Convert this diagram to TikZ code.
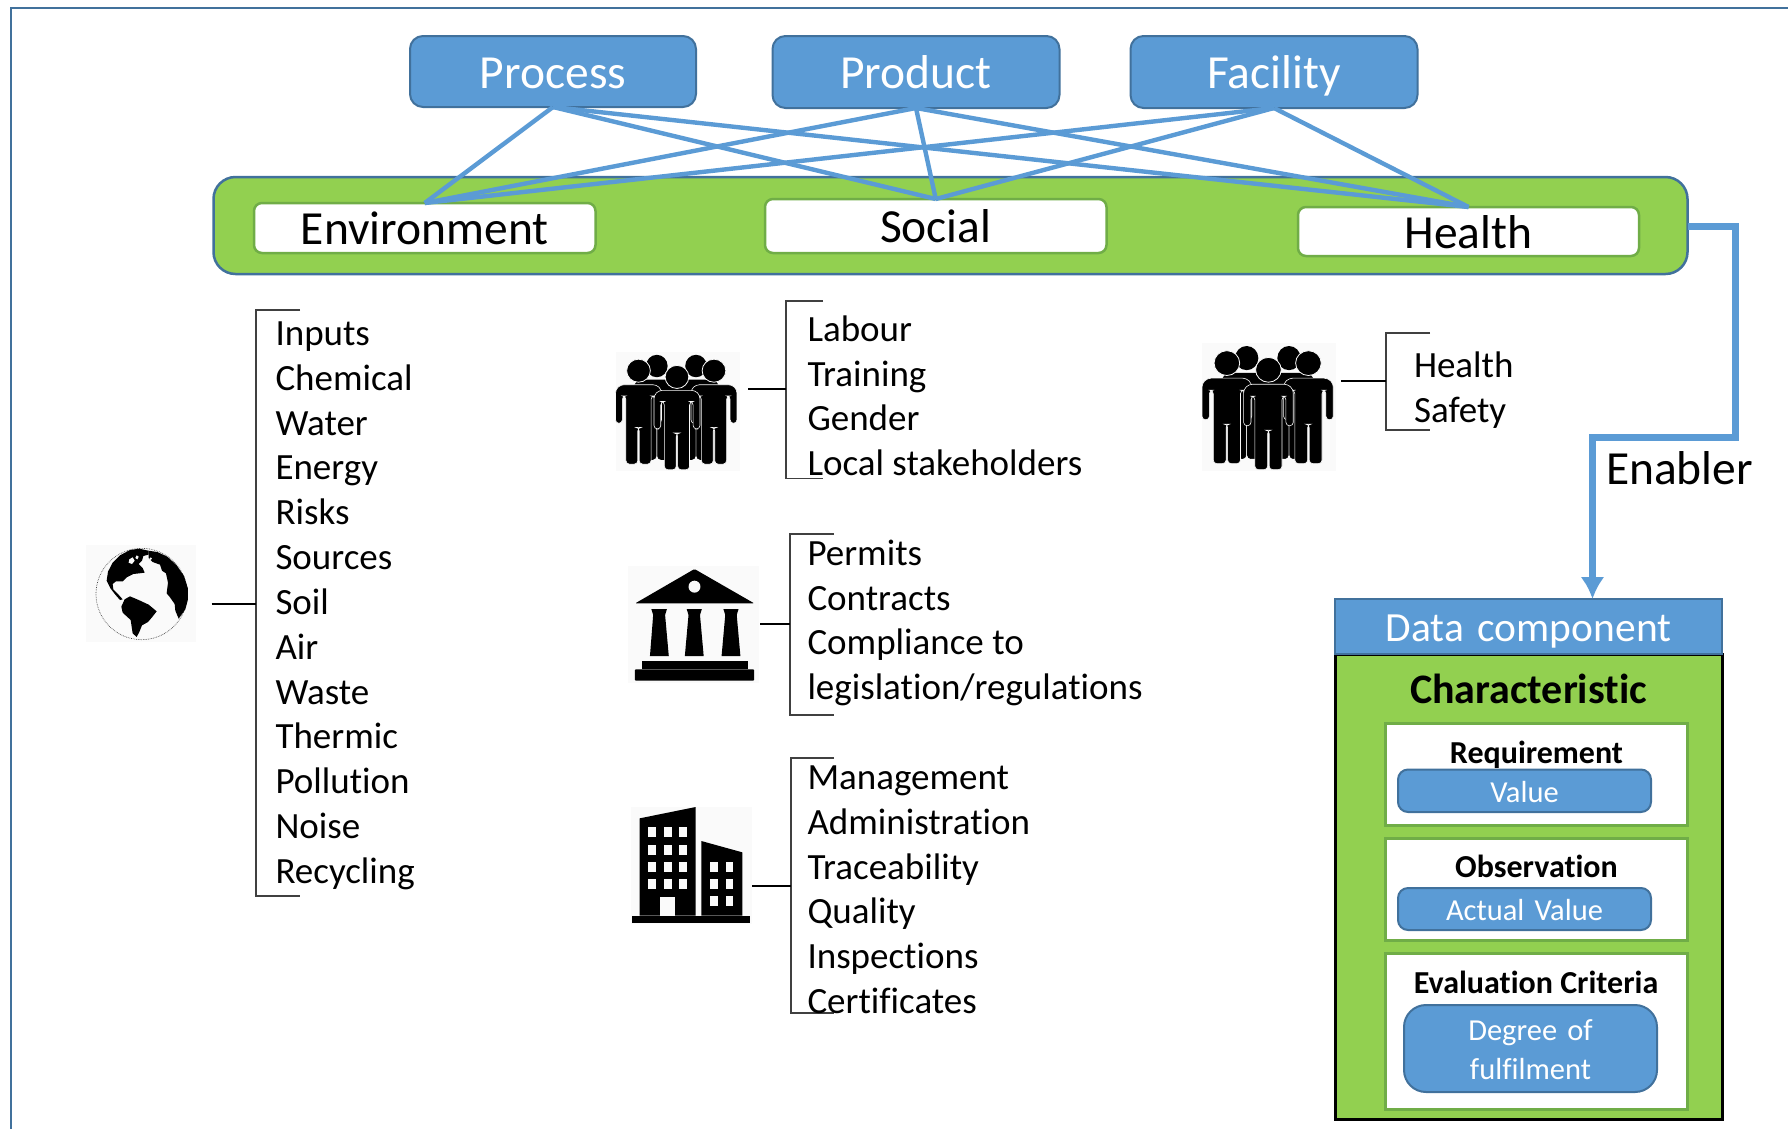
\documentclass[tikz,border=0pt]{standalone}
\usepackage{fontspec}
\setmainfont{Carlito}[Ligatures=CommonOff]
\usetikzlibrary{arrows.meta}
\definecolor{bluefill}{HTML}{5B9BD5}
\definecolor{blueedge}{HTML}{41719C}
\definecolor{greenfill}{HTML}{92D050}
\definecolor{greenedge}{HTML}{70AD47}
\definecolor{iconbg}{HTML}{FAFAFA}
\definecolor{bracketgray}{HTML}{404040}
\tikzset{
  fbig/.style={font=\fontsize{47.5}{50}\selectfont},
  topbox/.style={fill=bluefill,draw=blueedge,line width=2pt,rounded corners=13pt,text=white,fbig},
  whitebox/.style={fill=white,draw=greenedge,line width=2.5pt,rounded corners=8pt,text=black,fbig},
  barbox/.style={fill=greenfill,draw=blueedge,line width=2.5pt,rounded corners=22pt},
  link/.style={draw=bluefill,line width=4.4pt},
  listtext/.style={anchor=base west,inner sep=0pt,outer sep=0pt,font=\fontsize{37}{40}\selectfont},
  bracketline/.style={draw=bracketgray,line width=1.4pt},
  stemline/.style={draw=black,line width=1.5pt},
  panel/.style={fill=white,draw=greenedge,line width=3pt},
  valuebox/.style={fill=bluefill,draw=blueedge,line width=2pt,rounded corners=10pt,text=white,font=\fontsize{30.5}{39}\selectfont},
  headtext/.style={anchor=base,inner sep=0pt,outer sep=0pt,font=\fontsize{32}{36}\selectfont\bfseries},
  iconback/.style={fill=iconbg,draw=none,inner sep=0pt,outer sep=0pt},
}
% name, style, x1, y1, x2, y2, first baseline, text depth measured from first baseline, text
\newcommand{\tbox}[9]{%
  \pgfmathsetmacro{\bw}{#5-#3}\pgfmathsetmacro{\bh}{#7-#4}\pgfmathsetmacro{\bd}{#8}%
  \node[#2,inner sep=0pt,outer sep=0pt,align=center,text width=\bw pt,text height=\bh pt,text depth=\bd pt,anchor=north west] (#1) at (#3,#4) {#9};%
}
% background rectangle as a named node
\newcommand{\iconrect}[5]{%
  \pgfmathsetmacro{\bw}{#4-#2}\pgfmathsetmacro{\bh}{#5-#3}%
  \node[iconback,minimum width=\bw pt,minimum height=\bh pt,anchor=north west] (#1) at (#2,#3) {};%
}
\newcommand{\personshape}[3]{% cx, shoulder y, outline
  \filldraw[fill=black,draw=#3,line width=.6pt,rounded corners=3.5pt]
    (#1-64,#2+16) -- (#1-64,#2+124) -- (#1-45,#2+124) -- (#1-45,#2+36) -- (#1-35,#2+36)
    -- (#1-35,#2+255) -- (#1-2,#2+255) -- (#1-2,#2+137) -- (#1+2,#2+137) -- (#1+2,#2+255)
    -- (#1+35,#2+255) -- (#1+35,#2+36) -- (#1+45,#2+36) -- (#1+45,#2+124) -- (#1+64,#2+124)
    -- (#1+64,#2+16) -- (#1+50,#2) -- (#1-50,#2) -- cycle;
}
\newcommand{\peopleicon}[4]{% left, top, width, height
  \begin{scope}[shift={(#1,#2)},x=#3pt/345,y=-#4pt/382,shift={(-57,-430)}]
    \personshape{172}{520}{black}
    \personshape{281}{520}{black}
    \fill (172,475) ellipse [x radius=30,y radius=36];
    \fill (281,475) ellipse [x radius=30,y radius=36];
    \personshape{121}{535}{iconbg}
    \personshape{331}{535}{iconbg}
    \filldraw[fill=black,draw=iconbg,line width=.8pt] (121,490) ellipse [x radius=33,y radius=37];
    \filldraw[fill=black,draw=iconbg,line width=.8pt] (331,490) ellipse [x radius=33,y radius=37];
    \personshape{228}{553}{iconbg}
    \filldraw[fill=black,draw=iconbg,line width=.8pt] (228,510) ellipse [x radius=33,y radius=37];
  \end{scope}
}
\begin{document}
\begin{tikzpicture}[x=1pt,y=-1pt]
\useasboundingbox (0,0) rectangle (1788,1128);
\fill[white] (0,0) rectangle (1788,1128);
\draw[draw=blueedge,line width=2.5pt] (11,1130) -- (11,8) -- (1790,8);

% green bar
\node[barbox,minimum width=1474pt,minimum height=97pt,inner sep=0pt,outer sep=0pt,anchor=north west] (bar) at (213.5,177) {};

% top row and aspects
\tbox{process}{topbox}{410}{36}{696}{107}{88.5}{18.5}{Process}
\tbox{product}{topbox}{772.5}{36}{1059.5}{108}{88.5}{19.5}{Product}
\tbox{facility}{topbox}{1130.5}{36}{1417.5}{108}{88.5}{19.5}{Facility}
\tbox{env}{whitebox}{254}{203}{595.5}{253}{244}{9}{Environment}
\tbox{social}{whitebox}{765}{199}{1106.5}{253}{242}{11}{Social}
\tbox{health}{whitebox}{1298}{207}{1639}{256}{248}{8}{Health}

\foreach \t in {process,product,facility}
  \foreach \b in {env,social,health}
    \draw[link] (\t.south) -- (\b.north);

% enabler connector
\coordinate (ea) at (1735,226);
\coordinate (eb) at (1735,437);
\coordinate (ec) at (1592.5,437);
\node[anchor=base west,inner sep=0pt,outer sep=0pt,font=\fontsize{47.5}{50}\selectfont] (enabler) at (1606,484) {Enabler};

% data component
\node[fill=greenfill,draw=black,line width=3pt,minimum width=387pt,minimum height=465pt,inner sep=0pt,outer sep=0pt,anchor=north west] (databody) at (1335.5,654) {};
\tbox{datahdr}{fill=bluefill,draw=blueedge,line width=2.5pt,text=white,font=\fontsize{41.5}{46}\selectfont}{1335}{599}{1722}{654}{641.5}{12.5}{Data component}
\draw[draw=bluefill,line width=7pt,-{Latex[length=22pt,width=24pt]}] (bar.east |- ea) -- (ea) -- (eb) -- (ec) -- (ec |- datahdr.north);
\node[anchor=base,inner sep=0pt,outer sep=0pt,font=\fontsize{42}{46}\selectfont\bfseries] (charact) at (1528.5,703) {Characteristic};

\node[panel,minimum width=302.5pt,minimum height=102pt,inner sep=0pt,outer sep=0pt,anchor=north west] (reqpanel) at (1385,723) {};
\node[panel,minimum width=302.5pt,minimum height=102pt,inner sep=0pt,outer sep=0pt,anchor=north west] (obspanel) at (1385,838) {};
\node[panel,minimum width=302.5pt,minimum height=156pt,inner sep=0pt,outer sep=0pt,anchor=north west] (evalpanel) at (1385,953) {};
\node[headtext] (reqlabel) at (1536.5,763.5) {Requirement};
\node[headtext] (obslabel) at (1536.5,877.5) {Observation};
\node[headtext] (evallabel) at (1536,993) {Evaluation Criteria};
\tbox{valuea}{valuebox}{1398}{769.5}{1651}{812}{802}{10}{Value}
\tbox{valueb}{valuebox}{1398}{888}{1651}{930}{920}{10}{Actual Value}
\tbox{degree}{valuebox,rounded corners=22pt}{1404}{1005}{1657}{1092}{1040}{52}{Degree of\\fulfilment}

% icon backgrounds
\iconrect{globeicon}{86}{545}{196}{642}
\iconrect{peopleA}{615.5}{352}{739.5}{471}
\iconrect{temple}{628}{566}{759}{683}
\iconrect{building}{631.3}{806.7}{752}{924}
\iconrect{peopleB}{1202}{343}{1336}{471}

% globe
\begin{scope}[shift={(80,540)},x=.3333pt,y=-.3333pt]
  \draw[black!70,line width=.7pt,densely dotted] (185,162) circle [radius=137];
  \fill[black] (80,122) -- (84,95) -- (98,68) -- (120,46) -- (150,30) -- (178,26) -- (205,32) -- (205,44) -- (190,48) -- (186,62) -- (176,72) -- (188,84) -- (194,98) -- (178,100) -- (160,102) -- (140,112) -- (128,124) -- (108,124) -- (98,132) -- (100,148) -- (112,160) -- (128,178) -- (120,180) -- (106,164) -- (92,146) -- cycle;
  \fill[iconbg] (148,58) -- (158,52) -- (164,62) -- (156,72) -- (146,68) -- cycle;
  \fill[iconbg] (170,46) -- (176,50) -- (172,58) -- (166,54) -- cycle;
  \fill[black] (205,32) -- (232,36) -- (262,50) -- (290,76) -- (312,108) -- (324,146) -- (324,178) -- (316,208) -- (296,236) -- (286,212) -- (284,192) -- (270,172) -- (260,160) -- (264,128) -- (258,100) -- (246,92) -- (240,74) -- (218,66) -- (206,54) -- cycle;
  \fill[iconbg] (212,56) circle [radius=4];
  \fill[black] (124,200) -- (134,178) -- (150,169) -- (176,180) -- (206,194) -- (230,214) -- (216,232) -- (204,246) -- (186,256) -- (178,276) -- (170,291) -- (158,280) -- (152,240) -- (128,218) -- cycle;
\end{scope}

% people
\peopleicon{615.5}{352}{124}{119}
\peopleicon{1202}{343}{134}{128}

% temple (zoom coordinates)
\begin{scope}[shift={(60,320)},x=1pt/2.178,y=-1pt/3]
  \fill[rounded corners=1pt] (1382,747) -- (1512,850) -- (1253,850) -- cycle;
  \fill[iconbg] (1382,800) ellipse [x radius=13,y radius=18];
  \fill (1288,867) -- (1322,867) -- (1318,885) -- (1326,1008) -- (1285,1008) -- (1292,885) -- cycle;
  \fill (1365,867) -- (1398,867) -- (1394,885) -- (1402,1008) -- (1361,1008) -- (1369,885) -- cycle;
  \fill (1445,867) -- (1478,867) -- (1474,885) -- (1482,1008) -- (1441,1008) -- (1449,885) -- cycle;
  \fill (1267,1022) rectangle (1498,1048);
  \fill[rounded corners=1pt] (1252,1048) rectangle (1512,1082);
\end{scope}

% building (zoom coordinates)
\begin{scope}[shift={(600,770)},x=1pt/3,y=-1pt/3]
  \fill (119,145) -- (287,111) -- (287,437) -- (119,437) -- cycle;
  \fill (304,213) -- (427,247) -- (427,437) -- (304,437) -- cycle;
  \fill (96,437) rectangle (450,458);
  \foreach \wy in {172,224,275,327}
    \foreach \wx in {145,191,236}
      \fill[iconbg] (\wx,\wy) rectangle (\wx+24,\wy+30);
  \foreach \wy in {276,327,379}
    \foreach \wx in {331,377}
      \fill[iconbg] (\wx,\wy) rectangle (\wx+23,\wy+30);
  \fill[iconbg] (181,380) rectangle (224,437);
\end{scope}

% brackets and stems
\coordinate (bA1) at (300,310); \coordinate (bA2) at (256,310); \coordinate (bA3) at (256,896); \coordinate (bA4) at (300,896); \coordinate (sA1) at (211.5,604); \coordinate (sA2) at (256,604);
\draw[bracketline] (bA1) -- (bA2) -- (bA3) -- (bA4);
\draw[stemline] (sA1) -- (sA2);
\coordinate (bB1) at (823,301); \coordinate (bB2) at (786,301); \coordinate (bB3) at (786,478.5); \coordinate (bB4) at (823,478.5); \coordinate (sB1) at (748,389); \coordinate (sB2) at (786,389);
\draw[bracketline] (bB1) -- (bB2) -- (bB3) -- (bB4);
\draw[stemline] (sB1) -- (sB2);
\coordinate (bC1) at (834,534); \coordinate (bC2) at (790,534); \coordinate (bC3) at (790,715); \coordinate (bC4) at (834,715); \coordinate (sC1) at (760,624); \coordinate (sC2) at (790,624);
\draw[bracketline] (bC1) -- (bC2) -- (bC3) -- (bC4);
\draw[stemline] (sC1) -- (sC2);
\coordinate (bD1) at (834,758); \coordinate (bD2) at (791,758); \coordinate (bD3) at (791,1013); \coordinate (bD4) at (834,1013); \coordinate (sD1) at (752,886); \coordinate (sD2) at (791,886);
\draw[bracketline] (bD1) -- (bD2) -- (bD3) -- (bD4);
\draw[stemline] (sD1) -- (sD2);
\coordinate (bE1) at (1430,333); \coordinate (bE2) at (1386,333); \coordinate (bE3) at (1386,430); \coordinate (bE4) at (1430,430); \coordinate (sE1) at (1341,381); \coordinate (sE2) at (1386,381);
\draw[bracketline] (bE1) -- (bE2) -- (bE3) -- (bE4);
\draw[stemline] (sE1) -- (sE2);

% lists
\foreach \txt/\yy [count=\i] in {Inputs/345.5,Chemical/390.3,Water/435,Energy/479.5,Risks/524,Sources/569,Soil/614,Air/659,Waste/704,Thermic/748.5,Pollution/793.5,Noise/838.5,Recycling/883.5}
  \node[listtext] (la\i) at (275.5,\yy) {\txt};
\foreach \txt/\yy [count=\i] in {Labour/341.5,Training/386.5,Gender/430.5,Local stakeholders/475.5}
  \node[listtext] (lb\i) at (807.5,\yy) {\txt};
\foreach \txt/\yy [count=\i] in {Permits/565,Contracts/610,Compliance to/654.5,legislation\slash regulations/699.5}
  \node[listtext] (lc\i) at (807.5,\yy) {\txt};
\foreach \txt/\yy [count=\i] in {Management/789,Administration/834,Traceability/879,Quality/923.5,Inspections/968.5,Certificates/1013}
  \node[listtext] (ld\i) at (807.5,\yy) {\txt};
\foreach \txt/\yy [count=\i] in {Health/377.5,Safety/422.5}
  \node[listtext] (le\i) at (1414,\yy) {\txt};
\end{tikzpicture}
\end{document}
